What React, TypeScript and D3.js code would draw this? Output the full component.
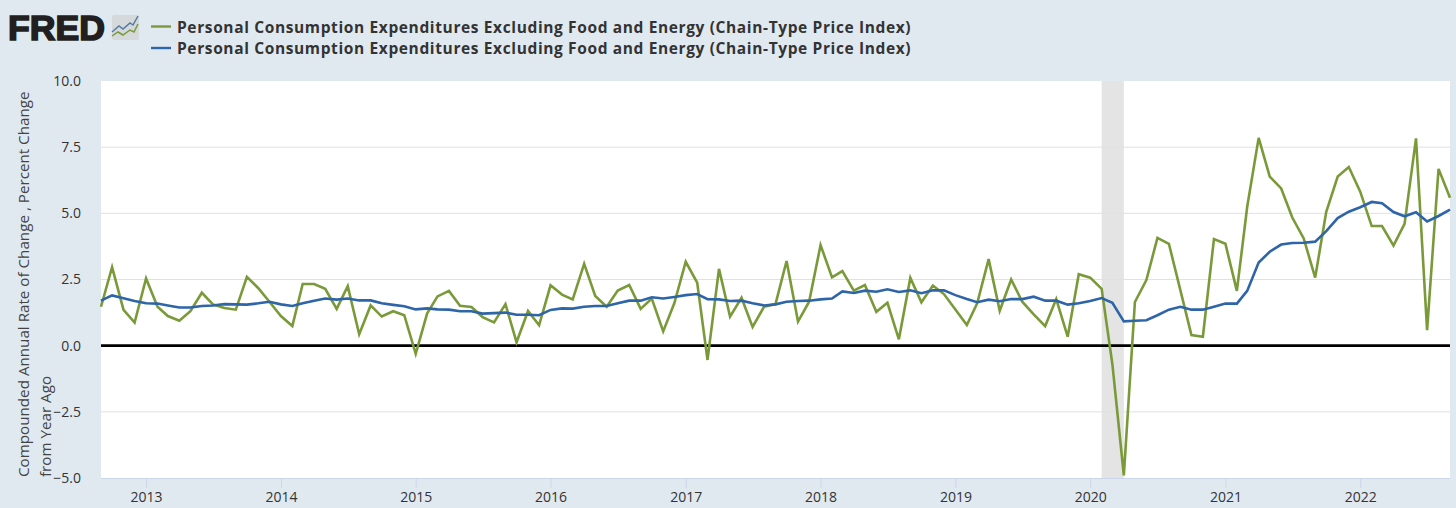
import React, { useEffect, useRef } from 'react';
import * as d3 from 'd3';

const seriesName = 'Personal Consumption Expenditures Excluding Food and Energy (Chain-Type Price Index)';
const yTitleLines = ['Compounded Annual Rate of Change , Percent Change', 'from Year Ago'];

const startMonth = new Date(Date.UTC(2012, 8, 1));
const endMonth = new Date(Date.UTC(2022, 8, 1));
const recession = [new Date(Date.UTC(2020, 1, 1)), new Date(Date.UTC(2020, 3, 1))];
const yTicks = [-5, -2.5, 0, 2.5, 5, 7.5, 10];
const xTickYears = [2013, 2014, 2015, 2016, 2017, 2018, 2019, 2020, 2021, 2022];

// monthly annualised rate
const monthlyRate = [
  1.47, 2.97, 1.35, 0.87, 2.54, 1.47, 1.12, 0.94, 1.3, 2.0, 1.56, 1.42, 1.36, 2.6, 2.17, 1.66, 1.12, 0.74, 2.33, 2.33,
  2.15, 1.39, 2.25, 0.43, 1.52, 1.1, 1.3, 1.15, -0.31, 1.22, 1.86, 2.07, 1.51, 1.46, 1.08, 0.88, 1.57, 0.13, 1.31, 0.77,
  2.28, 1.93, 1.75, 3.09, 1.88, 1.47, 2.08, 2.29, 1.39, 1.78, 0.54, 1.6, 3.17, 2.38, -0.54, 2.9, 1.1, 1.81, 0.71, 1.47,
  1.57, 3.2, 0.91, 1.66, 3.8, 2.58, 2.82, 2.08, 2.29, 1.28, 1.62, 0.24, 2.56, 1.64, 2.27, 1.95, 1.37, 0.78, 1.6, 3.27,
  1.32, 2.5, 1.66, 1.18, 0.74, 1.76, 0.34, 2.7, 2.57, 2.15, -0.7, -4.9, 1.65, 2.48, 4.07, 3.85, 2.1, 0.4, 0.34, 4.03,
  3.85, 2.07, 5.25, 7.85, 6.39, 5.94, 4.84, 4.05, 2.57, 5.06, 6.39, 6.75, 5.82, 4.52, 4.52, 3.78, 4.6, 7.83, 0.59, 6.68,
  5.59,
];

// percent change from a year ago
const yearlyRate = [
  1.7, 1.9, 1.79, 1.69, 1.6, 1.59, 1.52, 1.44, 1.44, 1.5, 1.52, 1.57, 1.56, 1.55, 1.6, 1.66, 1.56, 1.5, 1.6, 1.7,
  1.78, 1.74, 1.78, 1.71, 1.71, 1.6, 1.54, 1.49, 1.37, 1.41, 1.37, 1.36, 1.3, 1.3, 1.21, 1.23, 1.25, 1.17, 1.17, 1.15,
  1.35, 1.41, 1.4, 1.47, 1.5, 1.5, 1.6, 1.7, 1.7, 1.83, 1.78, 1.84, 1.91, 1.95, 1.76, 1.75, 1.69, 1.7, 1.6, 1.52,
  1.56, 1.66, 1.69, 1.7, 1.75, 1.78, 2.05, 1.99, 2.08, 2.04, 2.13, 2.03, 2.09, 1.98, 2.09, 2.09, 1.91, 1.76, 1.64, 1.74,
  1.68, 1.76, 1.76, 1.85, 1.7, 1.7, 1.55, 1.6, 1.69, 1.8, 1.62, 0.92, 0.94, 0.96, 1.15, 1.36, 1.47, 1.36, 1.36, 1.47,
  1.59, 1.59, 2.07, 3.14, 3.55, 3.82, 3.88, 3.89, 3.93, 4.33, 4.82, 5.06, 5.23, 5.43, 5.38, 5.05, 4.89, 5.04, 4.69, 4.9,
  5.14,
];

const GREEN = '#7a9a3a';
const BLUE = '#2e64a8';
const BG = '#e1e9f0';
const FONT = '"Open Sans", sans-serif';

const App: React.FC = () => {
  const chartRef = useRef<SVGSVGElement | null>(null);

  useEffect(() => {
    const width = 1456;
    const height = 508;
    const margin = { top: 81, right: 6, bottom: 30, left: 101 };

    d3.select(chartRef.current).selectAll('*').remove();
    const svg = d3.select(chartRef.current)
      .attr('width', width)
      .attr('height', height)
      .style('position', 'absolute')
      .style('left', 0)
      .style('top', 0);

    svg.append('rect').attr('width', width).attr('height', height).attr('fill', BG);

    const x = d3.scaleUtc().domain([startMonth, endMonth]).range([margin.left, width - margin.right]);
    const y = d3.scaleLinear().domain([-5, 10]).range([height - margin.bottom, margin.top]);
    const months = d3.utcMonth.range(startMonth, d3.utcMonth.offset(endMonth, 1));

    svg.append('rect')
      .attr('x', margin.left)
      .attr('y', margin.top)
      .attr('width', width - margin.left - margin.right)
      .attr('height', height - margin.top - margin.bottom)
      .attr('fill', '#fff');

    // recession band
    svg.append('rect')
      .attr('x', x(recession[0]))
      .attr('y', margin.top)
      .attr('width', x(recession[1]) - x(recession[0]))
      .attr('height', height - margin.top - margin.bottom)
      .attr('fill', '#e4e4e4');

    // y axis + gridlines
    const yAxis = svg.append('g')
      .attr('transform', `translate(${margin.left},0)`)
      .call(d3.axisLeft(y).tickValues(yTicks).tickSize(0).tickPadding(20).tickFormat(d => d3.format('.1f')(d as number)));
    yAxis.select('.domain').remove();
    yAxis.selectAll('text')
      .style('font-family', FONT)
      .style('font-size', '14px')
      .attr('fill', '#333');

    svg.append('g').selectAll('line')
      .data(yTicks.filter(d => d > -5 && d < 10))
      .enter().append('line')
      .attr('x1', margin.left)
      .attr('x2', width - margin.right)
      .attr('y1', d => y(d))
      .attr('y2', d => y(d))
      .attr('stroke', '#e1e1e1')
      .attr('stroke-width', 1);

    // x axis
    const xAxis = svg.append('g')
      .attr('transform', `translate(0,${height - margin.bottom})`)
      .call(d3.axisBottom(x)
        .tickValues(xTickYears.map(yr => new Date(Date.UTC(yr, 0, 1))))
        .tickSize(10)
        .tickPadding(4)
        .tickFormat(d => d3.utcFormat('%Y')(d as Date)));
    xAxis.select('.domain').attr('stroke', '#ccd6eb').attr('stroke-width', 1).attr('d', `M${margin.left},0.5H${width - margin.right}`);
    xAxis.selectAll('.tick line').attr('stroke', '#ccd6eb');
    xAxis.selectAll('text')
      .style('font-family', FONT)
      .style('font-size', '14px')
      .attr('fill', '#333');

    // zero line
    svg.append('line')
      .attr('x1', margin.left)
      .attr('x2', width - margin.right)
      .attr('y1', y(0))
      .attr('y2', y(0))
      .attr('stroke', '#000')
      .attr('stroke-width', 2.6);

    const line = d3.line<number>()
      .x((_, i) => x(months[i]))
      .y(d => y(d))
      .curve(d3.curveLinear);

    svg.append('path')
      .attr('d', line(monthlyRate))
      .attr('fill', 'none')
      .attr('stroke', GREEN)
      .attr('stroke-width', 2.6);

    svg.append('path')
      .attr('d', line(yearlyRate))
      .attr('fill', 'none')
      .attr('stroke', BLUE)
      .attr('stroke-width', 2.6);

    // y title
    yTitleLines.forEach((txt, i) => {
      svg.append('text')
        .attr('transform', `translate(${29 + i * 22},477) rotate(-90)`)
        .style('font-family', FONT)
        .style('font-size', '15.2px')
        .attr('fill', '#444')
        .text(txt);
    });

    // legend
    [GREEN, BLUE].forEach((color, i) => {
      const ly = 26.5 + i * 21.5;
      svg.append('line')
        .attr('x1', 151)
        .attr('x2', 171)
        .attr('y1', ly)
        .attr('y2', ly)
        .attr('stroke', color)
        .attr('stroke-width', 2.4);
      svg.append('text')
        .attr('x', 177)
        .attr('y', ly + 6)
        .style('font-family', FONT)
        .style('font-weight', 700)
        .style('font-size', '15.5px')
        .style('letter-spacing', '0.625px')
        .attr('fill', '#333')
        .text(seriesName);
    });

    // logo
    svg.append('text')
      .attr('x', 8)
      .attr('y', 40)
      .attr('textLength', 97)
      .attr('lengthAdjust', 'spacingAndGlyphs')
      .style('font-family', '"Liberation Sans", Arial, sans-serif')
      .style('font-weight', 700)
      .style('font-size', '35px')
      .style('stroke', '#231f20')
      .style('stroke-width', '1.6px')
      .attr('fill', '#231f20')
      .text('FRED');
    svg.append('rect')
      .attr('x', 112).attr('y', 15).attr('width', 27).attr('height', 25).attr('rx', 2)
      .attr('fill', '#d5d9dc');
    const iconLine = d3.line();
    svg.append('path')
      .attr('d', iconLine([[112, 32], [119, 26], [123, 29], [130, 23], [133, 25], [138, 16]]))
      .attr('fill', 'none').attr('stroke', '#4f7da0').attr('stroke-width', 1.5);
    svg.append('path')
      .attr('d', iconLine([[112, 36], [118, 32], [123, 35], [130, 30], [134, 32], [138, 24]]))
      .attr('fill', 'none').attr('stroke', '#7a9a3a').attr('stroke-width', 1.5);
  }, []);

  return <svg ref={chartRef}></svg>;
};

export default App;
